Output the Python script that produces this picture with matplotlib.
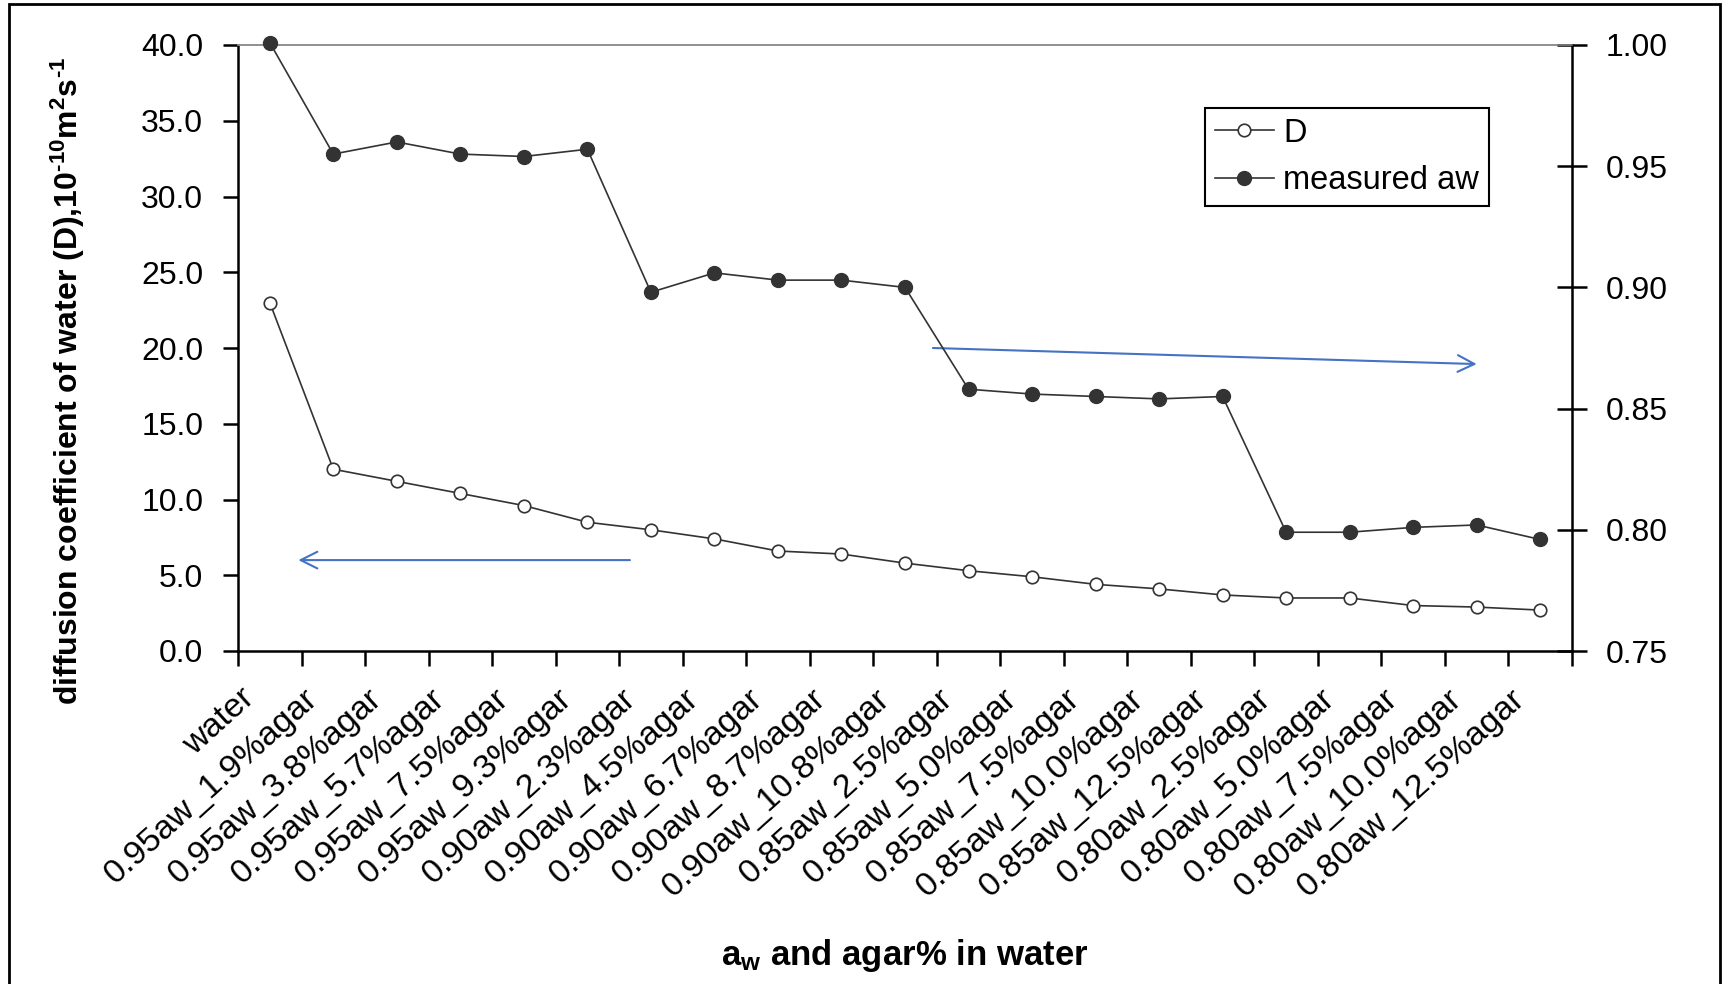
import numpy as np
import matplotlib
matplotlib.use('Agg')
import matplotlib.pyplot as plt
from matplotlib.ticker import FormatStrFormatter
from matplotlib.transforms import ScaledTranslation
from matplotlib.patches import Rectangle

plt.rcParams['font.family'] = 'Liberation Sans'
plt.rcParams['mathtext.fontset'] = 'custom'
plt.rcParams['mathtext.rm'] = 'Liberation Sans'
plt.rcParams['mathtext.bf'] = 'Liberation Sans:bold'
plt.rcParams['mathtext.default'] = 'bf'

# samples: water activity level + agar concentration
cats = ['water',
        '0.95aw_1.9%agar', '0.95aw_3.8%agar', '0.95aw_5.7%agar', '0.95aw_7.5%agar', '0.95aw_9.3%agar',
        '0.90aw_2.3%agar', '0.90aw_4.5%agar', '0.90aw_6.7%agar', '0.90aw_8.7%agar', '0.90aw_10.8%agar',
        '0.85aw_2.5%agar', '0.85aw_5.0%agar', '0.85aw_7.5%agar', '0.85aw_10.0%agar', '0.85aw_12.5%agar',
        '0.80aw_2.5%agar', '0.80aw_5.0%agar', '0.80aw_7.5%agar', '0.80aw_10.0%agar', '0.80aw_12.5%agar']

# diffusion coefficient, 10^-10 m2/s
D = [23.0, 12.0, 11.2, 10.4, 9.6, 8.5, 8.0, 7.4, 6.6, 6.4, 5.8,
     5.3, 4.9, 4.4, 4.1, 3.7, 3.5, 3.5, 3.0, 2.9, 2.7]

# measured water activity
aw = [1.001, 0.955, 0.960, 0.955, 0.954, 0.957, 0.898, 0.906, 0.903, 0.903, 0.900,
      0.858, 0.856, 0.855, 0.854, 0.855, 0.799, 0.799, 0.801, 0.802, 0.796]

W, H = 1725, 984
fig = plt.figure(figsize=(W / 100, H / 100), dpi=100)
ax = fig.add_axes([238 / W, 1 - 651 / H, (1572 - 238) / W, (651 - 45) / H])
ax2 = ax.twinx()

x = np.arange(len(cats))
lD, = ax.plot(x, D, color='#333333', lw=1.2, marker='o', ms=9, mfc='white',
              mec='#333333', mew=1.2, clip_on=False, zorder=3)
law, = ax2.plot(x, aw, color='#333333', lw=1.2, marker='o', ms=10, mfc='#333333',
                mec='#333333', clip_on=False, zorder=3)

ax.set_xlim(-0.5, len(cats) - 0.5)
ax.set_ylim(0, 40)
ax2.set_ylim(0.75, 1.0)

ax.set_yticks(np.arange(0, 40.1, 5))
ax.yaxis.set_major_formatter(FormatStrFormatter('%.1f'))
ax2.set_yticks(np.arange(0.75, 1.001, 0.05))
ax2.yaxis.set_major_formatter(FormatStrFormatter('%.2f'))

# tick marks between categories, labels at category centres
ax.set_xticks(np.arange(-0.5, len(cats), 1))
ax.set_xticklabels([])
ax.set_xticks(x, cats, minor=True)
ax.tick_params(axis='x', which='major', direction='out', length=11, width=1.8)
ax.tick_params(axis='x', which='minor', length=0, pad=23, labelsize=24.5)
shift = ScaledTranslation(-0.3, 0, fig.dpi_scale_trans)
for lab in ax.get_xticklabels(minor=True):
    lab.set_rotation(42)
    lab.set_ha('right')
    lab.set_va('top')
    lab.set_rotation_mode('anchor')
    lab.set_transform(lab.get_transform() + shift)

ax.tick_params(axis='y', direction='out', length=11, width=1.8, labelsize=23, pad=14)
ax2.tick_params(axis='y', direction='inout', length=22, width=1.8, labelsize=23, pad=13)

for a in (ax, ax2):
    a.spines['top'].set_color('#8c8c8c')
    a.spines['top'].set_linewidth(1.1)
ax.spines['left'].set_linewidth(1.8)
ax.spines['bottom'].set_linewidth(1.8)
ax.spines['right'].set_visible(False)
ax2.spines['left'].set_visible(False)
ax2.spines['bottom'].set_visible(False)
ax2.spines['right'].set_linewidth(1.8)

ax.set_ylabel('diffusion coefficient of water (D),10$^{\u201010}$m$^{2}$s$^{\u20101}$',
              fontsize=23, fontweight='bold', va='center')
ax.yaxis.set_label_coords(-0.1274, 0.4455)
ax.set_xlabel(r'a$_{w}$ and agar% in water', fontsize=25, fontweight='bold', va='center')
ax.xaxis.set_label_coords(0.5, -0.5017)

# arrows pointing each curve to its axis
blue = '#4472C4'
ax.annotate('', xy=(0.45, 6.0), xytext=(5.67, 6.0),
            arrowprops=dict(arrowstyle='->,head_length=1.2,head_width=0.6', color=blue,
                            lw=1.5, shrinkA=0, shrinkB=0))
ax.annotate('', xy=(19.0, 18.94), xytext=(10.44, 20.0),
            arrowprops=dict(arrowstyle='->,head_length=1.2,head_width=0.6', color=blue,
                            lw=1.5, shrinkA=0, shrinkB=0))

leg = ax2.legend([lD, law], ['D', 'measured aw'], loc='upper left',
                 bbox_to_anchor=(0.725, 0.896), fancybox=False, edgecolor='black',
                 fontsize=23.5, handlelength=1.8, borderpad=0.3, labelspacing=0.5,
                 handletextpad=0.3, borderaxespad=0, framealpha=1)
leg.get_frame().set_linewidth(1.5)

fig.patches.append(Rectangle((9 / W, -0.05), (1720 - 9) / W, 1 - 4 / H + 0.05,
                             transform=fig.transFigure, fill=False, ec='black', lw=2))

fig.savefig('out.png', dpi=100)
